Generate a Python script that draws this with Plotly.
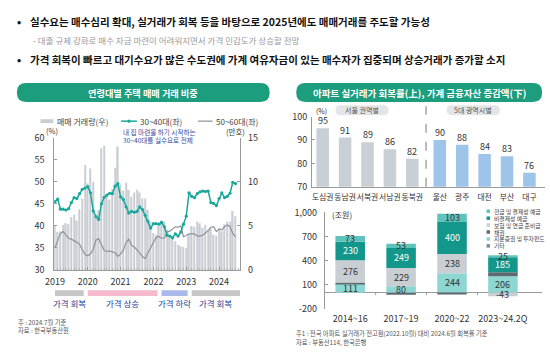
import plotly.graph_objects as go

W, H = 550, 354
FONT = "Noto Sans CJK KR"

# ---------------- data : left chart (2019.01 ~ 2024.07, monthly) ----------------
months = [f"{2019 + i // 12}-{i % 12 + 1:02d}" for i in range(67)]
volume_10k = [
    5.0, 4.3, 4.4, 5.1, 5.3, 5.2, 6.0, 6.3, 5.6, 6.9, 8.1, 11.9,
    9.8, 11.5, 10.0, 6.0, 6.8, 13.8, 14.1, 8.5, 8.0, 9.2, 11.6, 14.0,
    9.7, 9.0, 9.9, 9.1, 8.3, 8.8, 9.1, 8.8, 8.1, 8.1, 6.8, 5.5,
    4.2, 4.0, 5.0, 5.6, 5.5, 4.6, 3.8, 3.6, 3.3, 2.9, 2.7, 2.6,
    2.5, 4.1, 5.0, 4.9, 5.5, 5.3, 4.8, 5.1, 4.6, 4.7, 4.0, 3.9,
    4.7, 4.4, 5.2, 5.5, 5.5, 6.7, 6.1,
]
share_30_40 = [
    45.5, 46.1, 43.8, 43.8, 43.6, 43.9, 45.3, 46.4, 46.2, 47.3, 48.3, 48.6,
    48.9, 47.5, 43.4, 42.1, 41.5, 45.0, 46.5, 47.0, 47.4, 47.3, 49.0, 49.6,
    46.6, 46.0, 44.3, 42.9, 43.3, 43.1, 43.3, 44.3, 43.7, 42.4, 41.1, 39.5,
    40.5, 40.5, 40.4, 40.8, 39.8, 37.9, 37.7, 37.3, 38.2, 37.7, 38.6, 40.4,
    42.2, 47.5, 46.7, 46.4, 47.3, 47.7, 47.9, 47.8, 47.9, 45.3, 45.1, 44.6,
    46.2, 47.5, 46.4, 46.7, 47.4, 49.9, 49.6,
]
share_50_60 = [
    35.0, 36.6, 38.3, 38.7, 37.8, 37.2, 37.0, 36.7, 36.3, 35.8, 34.8, 33.5,
    33.2, 33.6, 34.7, 36.8, 37.1, 35.8, 34.4, 34.2, 34.3, 34.1, 33.9, 33.1,
    33.6, 34.5, 36.2, 37.0, 35.6, 35.2, 34.6, 33.9, 33.0, 32.6, 33.9, 35.1,
    36.5, 37.4, 37.6, 37.2, 37.2, 38.6, 38.8, 39.4, 39.8, 39.7, 40.0, 37.5,
    37.9, 38.2, 38.2, 38.2, 37.7, 37.7, 37.9, 38.3, 38.9, 39.7, 39.8, 38.7,
    39.3, 39.1, 39.8, 40.2, 39.8, 38.3, 37.5,
]
year_labels = ["2019", "2020", "2021", "2022", "2023", "2024"]
period_names = ["가격 회복", "가격 상승", "가격 하락", "가격 회복"]
period_start = ["2019-01", "2020-01", "2022-04", "2023-03"]
period_end = ["2019-11", "2022-02", "2023-01", "2024-07"]
period_colors = ["#c6c6c6", "#f5b9cb", "#a9b9ea", "#c6c6c6"]

# ---------------- data : right top ----------------
seoul_regions = ["도심권", "동남권", "서북권", "서남권", "동북권"]
seoul_rate = [95, 91, 89, 86, 82]
metro_cities = ["울산", "광주", "대전", "부산", "대구"]
metro_rate = [90, 88, 84, 83, 76]

# ---------------- data : right bottom (조원) ----------------
fin_periods = ["2014~16", "2017~19", "2020~22", "2023~24.2Q"]
fin_equity = [111, 80, 244, 206]      # 지분증권 및 투자펀드
fin_bond = [18, -25, -10, 50]         # 채권
fin_insurance = [276, 229, 238, -43]  # 보험 및 연금 준비금
fin_nonsettle = [230, 249, 400, 185]  # 비결제성 예금
fin_cash = [73, 53, 103, 25]          # 현금 및 결제성 예금
fin_other = [0, 0, 0, 0]              # 기타

# ---------------- helpers ----------------
def px(x):
    return x / W

def py(y):
    return 1 - y / H

def rrect(x0, y0, x1, y1, r, color):
    P = lambda x, y: f"{px(x):.5f},{py(y):.5f}"
    path = (f"M{P(x0 + r, y0)} L{P(x1 - r, y0)} Q{P(x1, y0)} {P(x1, y0 + r)} "
            f"L{P(x1, y1 - r)} Q{P(x1, y1)} {P(x1 - r, y1)} L{P(x0 + r, y1)} "
            f"Q{P(x0, y1)} {P(x0, y1 - r)} L{P(x0, y0 + r)} Q{P(x0, y0)} {P(x0 + r, y0)} Z")
    return dict(type="path", path=path, xref="paper", yref="paper",
                fillcolor=color, line=dict(width=0), layer="below")

def note(x, y, text, size, color="#333", anchor="left", bold=False, **kw):
    if bold:
        text = f"<b>{text}</b>"
    return dict(x=px(x), y=py(y), xref="paper", yref="paper", text=text,
                showarrow=False, xanchor=anchor, yanchor="middle",
                font=dict(family=FONT, size=size, color=color), **kw)

def midx(m):
    y, mo = m.split("-")
    return (int(y) - 2019) * 12 + int(mo) - 1

shapes, annotations = [], []
fig = go.Figure()

AX = "#9a9a9a"
TEAL_LINE = "#1aa79b"
GREEN = "#1b9d7e"

# ---------------- top bullets ----------------
annotations += [
    note(6, 15, "•", 11, "#111", bold=True),
    note(19, 15, "실수요는 매수심리 확대, 실거래가 회복 등을 바탕으로 2025년에도 매매거래를 주도할 가능성", 10.5, "#111", bold=True),
    note(22, 34.5, "- 대출 규제 강화로 매수 자금 마련이 어려워지면서 가격 민감도가 상승할 전망", 8.5, "#9a9a9a"),
    note(6, 54, "•", 11, "#111", bold=True),
    note(19, 54, "가격 회복이 빠르고 대기수요가 많은 수도권에 가계 여유자금이 있는 매수자가 집중되며 상승거래가 증가할 소지", 10.5, "#111", bold=True),
]

# ---------------- headers ----------------
shapes.append(rrect(8, 79, 265, 98.5, 9.5, GREEN))
shapes.append(rrect(292, 79, 542, 98.5, 9.5, GREEN))
annotations.append(note(136.5, 89, "연령대별 주택 매매 거래 비중", 9.2, "white", anchor="center", bold=True))
annotations.append(note(417, 89, "아파트 실거래가 회복률(上), 가계 금융자산 증감액(下)", 9.5, "white", anchor="center", bold=True))

# ---------------- left chart ----------------
xi = [midx(m) for m in months]
fig.add_trace(go.Bar(x=xi, y=volume_10k, marker=dict(color="#c9ced3", line=dict(width=0)),
                     width=0.55, xaxis="x", yaxis="y", showlegend=False))
fig.add_trace(go.Scatter(x=xi, y=share_50_60, mode="lines", line=dict(color="#8e9499", width=1.2),
                         xaxis="x", yaxis="y2", showlegend=False))
fig.add_trace(go.Scatter(x=xi, y=share_30_40, mode="lines+markers",
                         line=dict(color=TEAL_LINE, width=1.5), marker=dict(size=3.2, color=TEAL_LINE),
                         xaxis="x", yaxis="y2", showlegend=False))

xr_left = [-0.25, 67.7]
for name, s, e, c in zip(period_names, period_start, period_end, period_colors):
    x0 = midx(s)
    x1 = min(midx(e) + 0.5, xr_left[1])
    if e == period_end[-1]:
        x1 = xr_left[1]
    shapes.append(dict(type="rect", xref="x", yref="paper", x0=x0, x1=x1,
                       y0=py(300), y1=py(294), fillcolor=c, line=dict(width=0)))
    annotations.append(dict(x=(x0 + x1) / 2, y=py(307.5), xref="x", yref="paper", text=name,
                            showarrow=False, xanchor="center", yanchor="middle",
                            font=dict(family=FONT, size=8.5, color="#2b3d8f")))

# legend (manual)
shapes.append(dict(type="rect", xref="paper", yref="paper", x0=px(32), x1=px(45),
                   y0=py(120.5), y1=py(116.5), fillcolor="#c9ced3", line=dict(width=0)))
annotations.append(note(47, 118.5, "매매 거래량(우)", 8, "#444"))
shapes.append(dict(type="line", xref="paper", yref="paper", x0=px(114), x1=px(130),
                   y0=py(118.5), y1=py(118.5), line=dict(color=TEAL_LINE, width=1.5)))
shapes.append(dict(type="circle", xref="paper", yref="paper", x0=px(120.4), x1=px(123.6),
                   y0=py(120.1), y1=py(116.9), fillcolor=TEAL_LINE, line=dict(width=0)))
annotations.append(note(131, 118.5, "30~40대(좌)", 8, "#444"))
shapes.append(dict(type="line", xref="paper", yref="paper", x0=px(192), x1=px(207),
                   y0=py(118.5), y1=py(118.5), line=dict(color="#8e9499", width=1.2)))
annotations.append(note(208, 118.5, "50~60대(좌)", 8, "#444"))
annotations.append(note(114, 129.5, "내 집 마련을 하기 시작하는", 6.6, "#33489a"))
annotations.append(note(114, 138, "30~40대를 실수요로 전제", 6.6, "#33489a"))
annotations.append(note(36, 128, "(%)", 7.5, "#333"))
annotations.append(note(219, 129, "(만호)", 7.5, "#333"))

annotations.append(note(7, 327.5, "주 : 2024.7월 기준", 6.3, "#555"))
annotations.append(note(7, 336, "자료 : 한국부동산원", 6.3, "#555"))

# ---------------- right top chart ----------------
gap_shift = 5.23
xs_seoul = list(range(len(seoul_regions)))
xs_metro = [gap_shift + i for i in range(len(metro_cities))]
fig.add_trace(go.Bar(x=xs_seoul, y=seoul_rate, width=0.56, marker=dict(color="#c8cfd5", line=dict(width=0)),
                     xaxis="x3", yaxis="y3", showlegend=False))
fig.add_trace(go.Bar(x=xs_metro, y=metro_rate, width=0.56, marker=dict(color="#9ec4ea", line=dict(width=0)),
                     xaxis="x3", yaxis="y3", showlegend=False))
for xv, v in zip(xs_seoul + xs_metro, seoul_rate + metro_rate):
    annotations.append(dict(x=xv, y=v, xref="x3", yref="y3", text=str(v), showarrow=False,
                            yanchor="middle", yshift=7.5, font=dict(family=FONT, size=9, color="#333")))
sep_x = (xs_seoul[-1] + xs_metro[0]) / 2
shapes.append(dict(type="line", xref="x3", yref="paper", x0=sep_x, x1=sep_x, y0=py(186.7), y1=py(103),
                   line=dict(color="#8f8f8f", width=1.2, dash="dash")))
shapes.append(rrect(332, 102, 386, 112.5, 5, "#e3e5e7"))
shapes.append(rrect(445, 102, 499, 112.5, 5, "#e3e5e7"))
annotations.append(note(359, 107.3, "서울 권역별", 7, "#555", anchor="center"))
annotations.append(note(472, 107.3, "5대 광역시별", 7, "#555", anchor="center"))
annotations.append(note(310, 107.5, "(%)", 7, "#333"))

# ---------------- right bottom chart ----------------
fin_series = [
    ("지분증권 및 투자펀드", fin_equity, "#8dd6d2", "#333"),
    ("채권", fin_bond, "#5e6a72", None),
    ("보험 및 연금 준비금", fin_insurance, "#c9ced3", "#333"),
    ("비결제성 예금", fin_nonsettle, "#14978b", "white"),
    ("현금 및 결제성 예금", fin_cash, "#5ec3bd", "#333"),
    ("기타", fin_other, "#7d8b98", None),
]
pos_base = [0] * len(fin_periods)
neg_base = [0] * len(fin_periods)
for name, vals, col, tcol in fin_series:
    fig.add_trace(go.Bar(x=fin_periods, y=vals, width=0.58, marker=dict(color=col, line=dict(width=0)),
                         xaxis="x4", yaxis="y4", showlegend=False, name=name))
    for i, v in enumerate(vals):
        if v >= 0:
            mid = pos_base[i] + v / 2
            pos_base[i] += v
        else:
            mid = neg_base[i] + v / 2
            neg_base[i] += v
        if tcol is not None and v != 0:
            annotations.append(dict(x=fin_periods[i], y=mid, xref="x4", yref="y4", text=str(v),
                                    showarrow=False, yanchor="middle",
                                    font=dict(family=FONT, size=9, color=tcol)))
for b in [0.5, 1.5, 2.5]:
    shapes.append(dict(type="line", xref="x4", yref="y4", x0=b, x1=b, y0=0, y1=-30,
                       line=dict(color=AX, width=1)))
legend_rows = [("현금 및 결제성 예금", "#5ec3bd"), ("비결제성 예금", "#14978b"),
               ("보험 및 연금 준비금", "#c9ced3"), ("채권", "#5e6a72"),
               ("지분증권 및 투자펀드", "#8dd6d2"), ("기타", "#7d8b98")]
for k, (nm, col) in enumerate(legend_rows):
    yy = 212 + k * 7.2
    shapes.append(dict(type="rect", xref="paper", yref="paper", x0=px(485.5), x1=px(489),
                       y0=py(yy + 1.8), y1=py(yy - 1.8), fillcolor=col, line=dict(width=0)))
    annotations.append(note(491.5, yy, nm, 5.8, "#444"))
annotations.append(note(326, 215.5, "(조원)", 8, "#333"))
annotations.append(note(290, 339, "주1 : 전국 아파트 실거래가 전고점(2022.10월) 대비 2024.6월 회복률 기준", 6.3, "#555"))
annotations.append(note(290, 348.5, "자료 : 부동산114, 한국은행", 6.3, "#555"))

# ---------------- layout ----------------
tickf = dict(family=FONT, size=9, color="#333")
fig.update_layout(
    width=W, height=H, margin=dict(l=0, r=0, t=0, b=0),
    paper_bgcolor="white", plot_bgcolor="rgba(0,0,0,0)",
    barmode="relative", showlegend=False,
    font=dict(family=FONT),
    xaxis=dict(domain=[px(46), px(235)], range=xr_left, anchor="y",
               tickvals=[0, 12, 24, 36, 48, 60], ticktext=year_labels, tickfont=tickf,
               showline=True, linecolor=AX, linewidth=1, ticks="inside", ticklen=3, tickcolor=AX,
               minor=dict(tickmode="linear", tick0=0, dtick=1, ticks="inside", ticklen=1.8, tickcolor="#b5b5b5"),
               showgrid=False, zeroline=False, ticklabelstandoff=3),
    yaxis=dict(domain=[py(273), py(135.7)], range=[0, 15], tickvals=[0, 5, 10, 15], side="right",
               anchor="x", showline=True, linecolor=AX, linewidth=1, ticks="inside", ticklen=3,
               tickcolor=AX, tickfont=tickf, showgrid=False, zeroline=False, ticklabelstandoff=5),
    yaxis2=dict(domain=[py(273), py(135.7)], range=[30, 60], tickvals=[30, 35, 40, 45, 50, 55, 60],
                side="left", overlaying="y", anchor="x", showline=True, linecolor=AX, linewidth=1,
                ticks="inside", ticklen=3, tickcolor=AX, tickfont=tickf, showgrid=False,
                zeroline=False, ticklabelstandoff=7),
    xaxis3=dict(domain=[px(308), px(545)], range=[-0.48, 9.93], anchor="y3",
                tickvals=xs_seoul + xs_metro, ticktext=seoul_regions + metro_cities, tickangle=0,
                tickfont=dict(family=FONT, size=7.8, color="#333"), showline=True, linecolor=AX,
                linewidth=1, ticks="", showgrid=False, zeroline=False, ticklabelstandoff=3),
    yaxis3=dict(domain=[py(186.7), py(113.7)], range=[70, 100], tickvals=[70, 80, 90, 100],
                anchor="x3", showline=True, linecolor=AX, linewidth=1, ticks="inside", ticklen=3,
                tickcolor=AX, tickfont=tickf, showgrid=False, zeroline=False, ticklabelstandoff=2),
    xaxis4=dict(domain=[px(321), px(542)], range=[-0.5, 3.77], anchor="y4", type="category",
                tickfont=dict(family=FONT, size=9, color="#333"), showline=False, ticks="", tickangle=0,
                showgrid=False, zeroline=False, ticklabelstandoff=3),
    yaxis4=dict(domain=[py(313.3), py(213.3)], range=[-200, 1000], tickvals=[-200, 100, 400, 700, 1000],
                ticktext=["-200", "100", "400", "700", "1,000"], anchor="x4", showline=True,
                linecolor=AX, linewidth=1, ticks="inside", ticklen=3, tickcolor=AX, tickfont=tickf,
                showgrid=False, zeroline=True, zerolinecolor=AX, zerolinewidth=1, ticklabelstandoff=5),
    shapes=shapes, annotations=annotations,
)

fig.write_html("out.html")
